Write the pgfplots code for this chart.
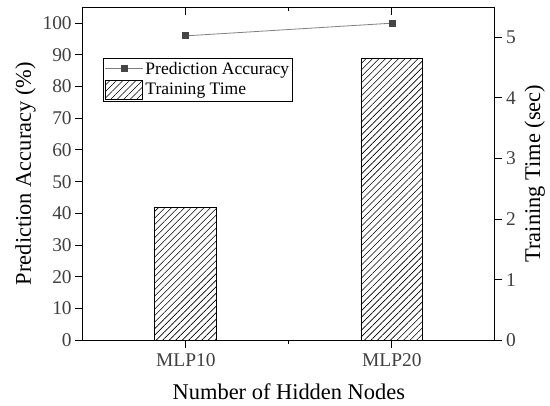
\documentclass[border=0pt]{standalone}
\usepackage{pgfplots}
\pgfplotsset{compat=1.18}
\usepackage{fontspec}
\setmainfont{Liberation Serif}
\usetikzlibrary{patterns.meta}

\definecolor{tickgray}{HTML}{404040}
\definecolor{linegray}{HTML}{808080}
\definecolor{markgray}{HTML}{454545}

\tikzset{hatch/.style={pattern={Lines[angle=45, distance=4.6bp, line width=0.6pt]}}}

\pgfplotsset{
  commonaxis/.style={
    scale only axis,
    width=412bp, height=333bp,
    xmin=0.5, xmax=2.5,
    xtick={1,2},
    xticklabels={MLP10,MLP20},
    minor xtick={1.5},
    /pgf/number format/assume math mode=true,
    tick label style={font=\fontsize{19.5}{19.5}\selectfont, text=tickgray},
    label style={font=\fontsize{22.5}{22.5}\selectfont},
    axis line style={line width=1pt},
    major tick length=7.5bp,
    minor tick length=4bp,
    every tick/.style={black, line width=1pt},
  }
}

\begin{document}
\begin{tikzpicture}
% Training time: hatched bars on the right-hand axis
\begin{axis}[
  commonaxis,
  axis x line*=bottom,
  axis y line*=right,
  ymin=0, ymax=5.5,
  ytick={0,1,2,3,4,5},
  xtick align=outside,
  ytick align=outside,
  xticklabel style={yshift=-2bp},
  ylabel={Training Time (sec)},
  ylabel style={xshift=0bp, yshift=-2bp},
  xlabel={Number of Hidden Nodes},
  xlabel style={yshift=-11bp},
]
\addplot[ybar, bar width=0.3, draw=black, line width=0.9pt, hatch]
  coordinates {(1,2.19) (2,4.65)};
\end{axis}

% Prediction accuracy: line with square markers on the left-hand axis
\begin{axis}[
  commonaxis,
  axis x line*=top,
  axis y line*=left,
  xticklabels={},
  xtick align=inside,
  ytick align=outside,
  ymin=0, ymax=105.1,
  ytick={0,10,...,100},
  ylabel={Prediction Accuracy (\%)},
  legend style={
    at={(axis description cs:0.05,0.848)}, anchor=north west,
    draw=black, line width=0.6pt,
    font=\fontsize{17.6}{17.6}\selectfont,
    row sep=2.5bp, inner xsep=1bp, inner ysep=2bp,
    /tikz/every even column/.style={column sep=2bp},
  },
  legend cell align=left,
]
\addplot[color=linegray, line width=0.8pt, mark=square*,
  mark size=3bp, mark options={draw=markgray, fill=markgray},
  legend image code/.code={
    \draw[linegray, line width=0.8pt] (0bp,0bp) -- (38bp,0bp);
    \fill[markgray] (16bp,-3bp) rectangle (22bp,3bp);
  }]
  coordinates {(1,96.0) (2,100.0)};
\addlegendentry{Prediction Accuracy}
\addlegendimage{legend image code/.code={
    \draw[black, line width=0.7pt, hatch] (0bp,-9.5bp) rectangle (37bp,9bp);
  }}
\addlegendentry{Training Time}
\end{axis}

\pgfresetboundingbox
\path ([xshift=-82.7bp,yshift=-65bp]current axis.south west)
      rectangle ([xshift=55bp,yshift=7bp]current axis.north east);
\end{tikzpicture}
\end{document}
